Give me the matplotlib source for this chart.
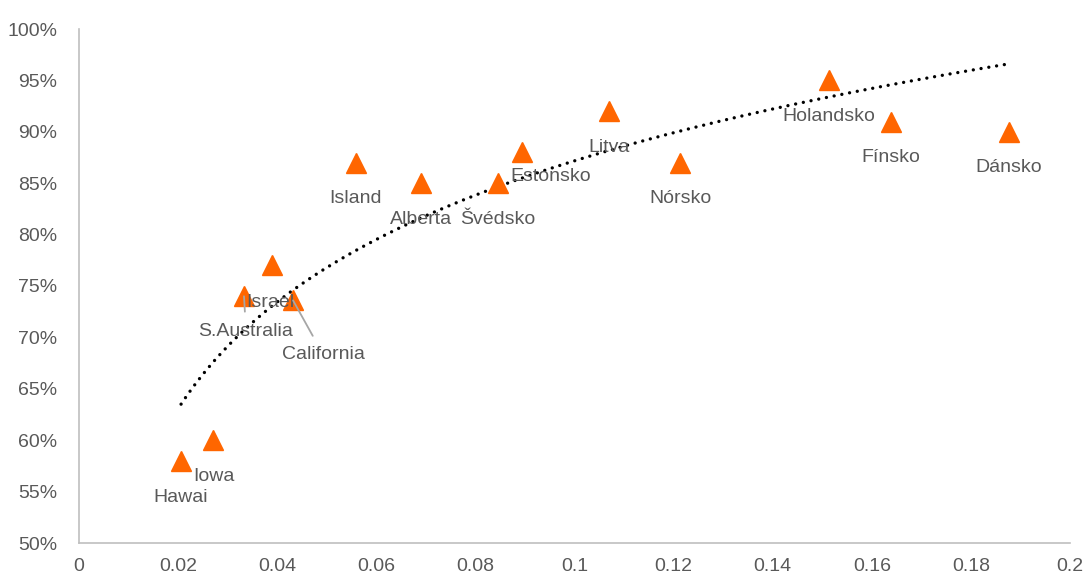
import numpy as np
import matplotlib
matplotlib.use('Agg')
import matplotlib.pyplot as plt
from matplotlib.ticker import FuncFormatter

plt.rcParams['font.family'] = ['Liberation Sans', 'DejaVu Sans']

# data
names = ['Hawai', 'Iowa', 'S.Australia', 'Israel', 'California', 'Island', 'Alberta',
         'Švédsko', 'Estonsko', 'Litva', 'Nórsko', 'Holandsko', 'Fínsko', 'Dánsko']
xs = [0.0206, 0.0271, 0.0333, 0.0390, 0.0432, 0.0559, 0.0690,
      0.0846, 0.0894, 0.1070, 0.1213, 0.1514, 0.1639, 0.1877]
ys = [0.58, 0.60, 0.74, 0.77, 0.736, 0.87, 0.85,
      0.85, 0.88, 0.92, 0.87, 0.95, 0.91, 0.90]

# label offsets in pixels (dx right, dy down) from marker
offsets = {'Hawai': (0, 37), 'Iowa': (1, 36), 'S.Australia': (2, 35), 'Israel': (-2, 37),
           'California': (30, 54), 'Estonsko': (29, 24)}
leaders = ['S.Australia', 'California']

orange = '#FF6600'
grey_txt = '#595959'
axis_col = '#BFBFBF'
fs = 14

fig = plt.figure(figsize=(10.86, 5.81), dpi=100)
ax = fig.add_axes([79/1086, 1-543/581, (1070-79)/1086, (543-29)/581])

# logarithmic trendline (least squares on ln x)
b, a = np.polyfit(np.log(xs), ys, 1)
xt = np.linspace(min(xs), max(xs), 200)
ax.plot(xt, a + b*np.log(xt), color='black', lw=2.4, linestyle=(0, (0.01, 2.35)),
        dash_capstyle='round', zorder=2)

ax.plot(xs, ys, linestyle='none', marker='^', ms=14.5, color=orange, mec=orange, zorder=3)

for n, x, y in zip(names, xs, ys):
    dx, dy = offsets.get(n, (0, 36))
    if n in leaders:
        ax.annotate(n, (x, y), xytext=(dx*0.72, -dy*0.72), textcoords='offset points',
                    ha='center', va='center', fontsize=fs, color=grey_txt, zorder=4,
                    arrowprops=dict(arrowstyle='-', color='#A6A6A6', lw=1.3,
                                    shrinkA=6, shrinkB=0))
    else:
        ax.annotate(n, (x, y), xytext=(dx*0.72, -dy*0.72), textcoords='offset points',
                    ha='center', va='center', fontsize=fs, color=grey_txt, zorder=4)

ax.set_xlim(0, 0.2)
ax.set_ylim(0.5, 1.0)
ax.set_xticks(np.arange(0, 0.201, 0.02))
ax.set_yticks(np.arange(0.5, 1.001, 0.05))
ax.xaxis.set_major_formatter(FuncFormatter(lambda v, p: '%g' % round(v, 2)))
ax.yaxis.set_major_formatter(FuncFormatter(lambda v, p: '%d%%' % round(v*100)))
ax.tick_params(length=0, labelsize=fs, colors=grey_txt, pad=15.5)
ax.tick_params(axis='x', pad=10.5)
for s in ['top', 'right']:
    ax.spines[s].set_visible(False)
for s in ['left', 'bottom']:
    ax.spines[s].set_color(axis_col)
    ax.spines[s].set_linewidth(1.2)

fig.savefig('out.png', dpi=100)
